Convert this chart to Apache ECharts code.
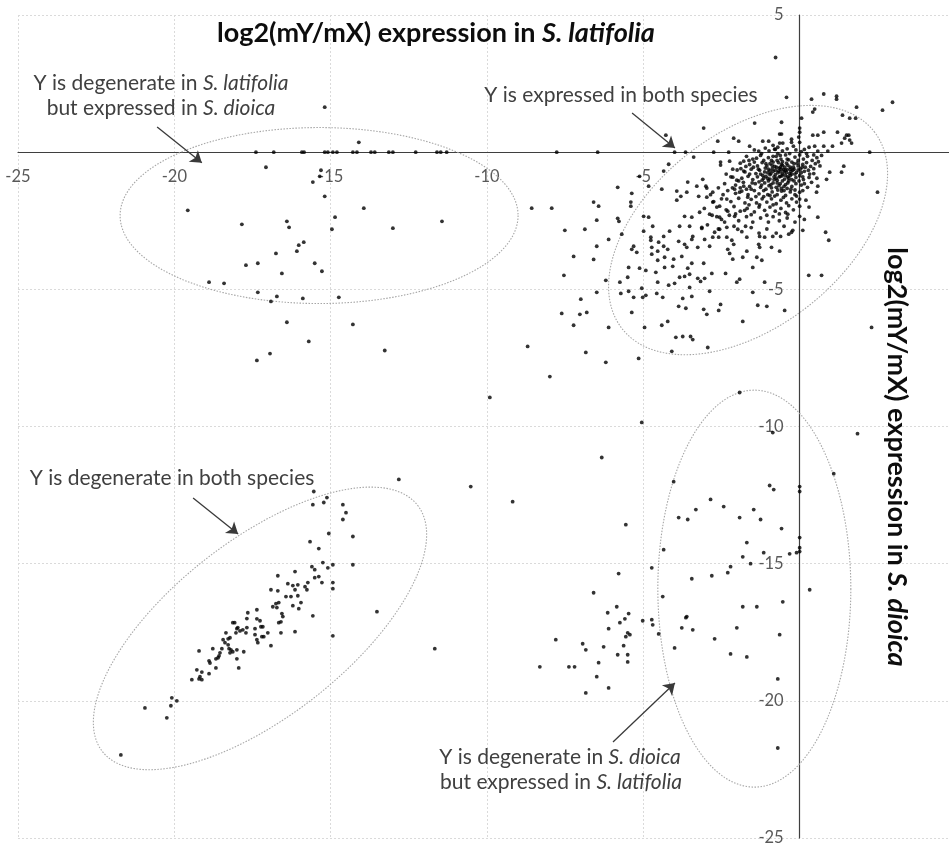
<!DOCTYPE html>
<html><head><meta charset="utf-8">
<script src="https://cdn.jsdelivr.net/npm/echarts@6/dist/echarts.min.js"></script>
<style>html,body{margin:0;padding:0;background:#fff}#chart{width:949px;height:848px}</style>
</head><body><div id="chart"></div>
<script>
// ---- axis settings ----
const axisMin = -25, axisMax = 5, tickStep = 5;
const hiddenXTicks = [0, 5];
const hiddenYTicks = [0];

// ---- data: [log2 ratio S. latifolia, log2 ratio S. dioica] ----
const degenerateInLatifolia = [
  [-17.39,0],[-16.82,0],[-15.92,0],[-15.85,0],[-15.19,0],[-15.09,0],[-14.93,0],[-14.8,0],[-14.29,0],[-14.16,0],
  [-13.71,0],[-13.59,0],[-13.14,0],[-13.01,0],[-12.28,0],[-11.6,0],[-11.48,0],[-11.29,0],
  [-15.19,1.64],[-14.1,0.36],[-17.07,-0.55],[-15.31,-0.66],[-15.35,-0.88],[-15.57,-1.09],[-15.19,-1.61],
  [-19.57,-2.12],[-17.84,-2.63],[-16.4,-2.52],[-16.33,-2.74],[-14.86,-2.37],[-13.94,-2.04],[-14.96,-2.81],
  [-13.01,-2.77],[-11.44,-2.52],[-15.86,-3.28],[-16.02,-3.39],[-16.08,-3.61],[-16.75,-3.69],[-17.71,-4.12],
  [-17.33,-4.05],[-15.51,-4.05],[-15.28,-4.34],[-16.56,-4.42],[-18.89,-4.74],[-18.41,-4.78],[-17.33,-5.11],
  [-16.72,-5.26],[-16.91,-5.44],[-15.89,-5.33],[-14.74,-5.29],[-16.4,-6.2],[-14.29,-6.28],[-15.7,-6.9],
  [-16.94,-7.34],[-17.36,-7.59],[-13.27,-7.23]
];

const expressedInBoth = [
  [-4.0,0],[-3.65,0],[-2.75,0],[-2.27,0],[2.24,0],
  [-4.28,0.62],[-3.07,0.88],[-2.62,0.4],[-2.11,0.51],[-1.95,0.4],[-3.39,-0.18],[-4.19,-0.44],[-4.35,-0.69],
  [-5.12,-0.88],[-5.82,-1.28],[-5.37,-1.5],[-5.4,-1.82],[-5.4,-1.97],[-5.82,-2.41],[-5.78,-2.52],[-4.99,-2.34],
  [-4.83,-2.37],[-4.83,-1.24],[-4.41,-1.35],[-3.93,-1.42],[-3.58,-1.09],[-3.8,-1.61],[-3.61,-1.46],[-3.93,-1.75],
  [-3.29,-1.24],[-3.1,-0.99],[-3.0,-1.24],[-2.97,-1.31],[-3.23,-1.61],[-2.97,-1.64],[-2.78,-1.46],[-2.53,-0.36],
  [-2.53,-0.47],[-2.24,-0.33],[-2.14,-0.62],[-2.14,-0.91],[-2.01,-1.02],[-1.79,-0.33],[-1.79,-0.69],[-1.79,-1.24],
  [-1.92,-1.46],[-1.66,-1.64],[-2.33,-1.71],[-2.08,-1.35],[-2.56,-1.97],[-2.3,-2.15],[-2.08,-2.34],[-2.56,-2.37],
  [-2.88,-2.26],[-3.2,-2.19],[-3.45,-2.37],[-3.68,-2.34],[-2.78,-1.82],[-1.76,-2.12],
  [-0.77,3.45],[-0.42,2.0],[0.38,1.93],[0.77,2.12],[1.18,2.04],[1.18,1.93],[1.82,1.64],[2.97,1.82],[2.65,1.53],
  [0.48,1.57],[0.42,1.46],[1.37,1.35],[1.6,1.24],[1.79,1.24],[-1.44,1.06],[-0.58,1.09],[0.06,1.24],[0,0.88],
  [0,0.73],[0.42,0.62],[0.58,0.62],[0.77,0.73],[1.21,0.73],[1.5,0.62],[1.57,0.62],[1.44,0.51],[1.6,0.44],
  [1.66,0.33],[1.34,0.33],[1.05,0.22],[0.77,0.22],[0.9,0.04],[0.58,0.04],[0.48,0.22],[-0.26,0.47],[-0.26,0.36],
  [-0.64,0.66],[-0.58,0.66],[-0.64,0.33],[-0.54,0.33],[-1.18,0.4],[-0.99,0.4],[-1.6,0.22],[-1.31,0.04],
  [-0.03,0.55],[0,0.36],[-0.8,0.11],[-0.7,0.18],
  [0.96,-0.73],[1.34,-0.73],[1.41,-0.51],[0.86,-0.99],[2.01,-0.8],[0.58,-1.24],[0.54,-1.46],[2.49,-1.46],
  [0.58,-2.37],[-0.38,-2.26],[0,-1.46],[0,-1.71],[0,-1.97],[0,-2.34],[0.83,-2.92],[0.93,-3.21],[0.29,-4.49],
  [0.7,-4.49],[2.3,-6.39],
  [-0.48,-5.77],[-1.05,-5.62],[-1.34,-5.58],[-1.5,-5.11],[-1.12,-4.74],[-1.5,-4.2],[-1.21,-3.94],[-1.37,-3.83],
  [-0.64,-3.61],[-0.9,-3.47],[-1.28,-3.47],[-1.31,-3.36],[-1.28,-3.07],[-1.12,-3.1],[-0.86,-3.07],[-0.61,-3.07],
  [-0.35,-2.99],[-0.26,-2.92],[-0.22,-2.85],
  [-5.69,-2.99],[-5.37,-3.54],[-5.31,-3.43],[-5.21,-3.65],[-5.47,-4.2],[-5.12,-4.23],[-4.92,-4.31],[-5.5,-4.56],
  [-5.75,-4.74],[-5.05,-4.96],[-5.72,-5.15],[-5.47,-5.07],[-5.31,-5.29],[-5.02,-5.29],[-4.92,-5.22],[-5.37,-5.84],
  [-4.96,-6.39],[-4.41,-6.31],[-4.22,-6.17],[-4.57,-5.15],[-4.38,-5.29],[-4.54,-4.74],[-4.19,-4.85],[-4.0,-4.78],
  [-4.6,-4.38],[-4.32,-4.2],[-4.54,-3.94],[-4.32,-3.83],[-4.06,-4.16],[-4.03,-3.9],[-3.84,-4.56],[-3.68,-4.53],
  [-3.52,-4.45],[-3.58,-4.23],[-3.77,-3.8],[-3.45,-4.05],[-3.52,-4.93],[-3.74,-5.33],[-3.45,-5.26],[-3.87,-5.62],
  [-3.64,-5.69],[-3.26,-4.6],[-3.17,-4.71],[-3.04,-4.6],[-2.88,-5.07],[-2.81,-4.42],[-3.07,-4.05],[-3.07,-5.73],
  [-2.97,-5.91],[-2.53,-5.55],[-2.59,-5.77],[-2.37,-4.42],[-2.01,-4.74],[-1.92,-4.63],[-1.82,-6.17],[-2.94,-7.12],
  [-3.96,-6.75],[-3.74,-6.72],[-3.49,-6.72],[-3.42,-6.83],[-4.09,-7.26],[-5.15,-7.52],
  [-4.99,-2.88],[-4.76,-3.1],[-4.76,-3.21],[-4.73,-3.47],[-4.73,-3.72],[-4.54,-3.61],[-4.51,-3.28],[-4.35,-3.07],
  [-4.35,-3.43],[-4.22,-3.54],[-4.16,-2.88],[-3.87,-3.25],[-3.68,-3.36],[-3.61,-3.47],[-3.45,-3.18],[-3.42,-3.07],
  [-3.26,-3.47],[-3.13,-2.74],[-3.04,-3.18],[-2.88,-3.43],[-2.78,-3.1],[-2.72,-2.92],[-2.56,-2.81],[-2.59,-3.1],
  [-2.33,-2.74],[-2.33,-3.1],[-2.3,-3.54],[-2.24,-3.69],[-2.17,-3.21],[-2.11,-3.36],[-2.14,-3.9],[-1.82,-3.83],
  [-1.69,-3.1],[-1.69,-3.61],[-1.98,-2.81],[-1.73,-2.7],[-4.7,-2.7],[-3.84,-2.7],[-3.52,-2.7],[-3.13,-2.78],
  // dense core
  [-1.1,0.15],[-0.85,0.25],[-0.4,0.12],[-0.2,0.22],[0.15,0.1],[0.3,0.18],[-0.55,0.05],[-1.45,0.08],[0.05,0.02],
  [-1.7,-0.15],[-1.5,-0.25],[-1.25,-0.12],[-1.0,-0.2],[-0.9,-0.3],[-0.75,-0.15],[-0.6,-0.25],[-0.45,-0.1],
  [-0.35,-0.28],[-0.15,-0.18],[0.0,-0.1],[0.12,-0.25],[0.25,-0.15],[0.4,-0.3],[0.55,-0.2],[-0.05,-0.3],
  [-0.7,-0.05],[-1.15,-0.3],[0.7,-0.12],
  [-1.9,-0.4],[-1.6,-0.45],[-1.35,-0.5],[-1.2,-0.38],[-1.05,-0.5],[-0.95,-0.42],[-0.8,-0.52],[-0.68,-0.38],
  [-0.55,-0.48],[-0.42,-0.4],[-0.3,-0.55],[-0.18,-0.42],[-0.05,-0.5],[0.1,-0.45],[0.22,-0.38],[0.35,-0.52],
  [0.5,-0.42],[0.65,-0.5],[-0.62,-0.55],[-0.25,-0.36],[-1.45,-0.36],[-0.85,-0.36],
  [-2.0,-0.65],[-1.75,-0.72],[-1.55,-0.62],[-1.4,-0.78],[-1.28,-0.66],[-1.12,-0.72],[-1.0,-0.62],[-0.92,-0.78],
  [-0.78,-0.66],[-0.7,-0.75],[-0.6,-0.62],[-0.5,-0.72],[-0.4,-0.64],[-0.32,-0.78],[-0.22,-0.66],[-0.1,-0.74],
  [0.02,-0.62],[0.15,-0.7],[0.28,-0.66],[0.45,-0.78],[-0.85,-0.7],[-0.55,-0.8],[-0.15,-0.8],[-1.6,-0.8],
  [-2.2,-0.9],[-1.85,-0.95],[-1.65,-0.88],[-1.5,-1.0],[-1.35,-0.9],[-1.2,-1.02],[-1.08,-0.88],[-0.95,-0.98],
  [-0.82,-0.9],[-0.72,-1.02],[-0.62,-0.88],[-0.48,-0.98],[-0.38,-0.9],[-0.25,-1.0],[-0.12,-0.92],[0.0,-0.86],
  [0.12,-1.0],[0.3,-0.92],[-0.55,-1.05],[-1.0,-1.05],[-0.3,-0.85],[0.55,-0.95],
  [-2.4,-1.15],[-2.05,-1.2],[-1.8,-1.1],[-1.6,-1.25],[-1.42,-1.15],[-1.25,-1.28],[-1.12,-1.12],[-0.98,-1.22],
  [-0.85,-1.12],[-0.75,-1.28],[-0.62,-1.15],[-0.5,-1.25],[-0.38,-1.12],[-0.25,-1.25],[-0.12,-1.15],[0.05,-1.2],
  [0.25,-1.28],[-1.9,-1.3],[-0.9,-1.3],
  [-2.3,-1.4],[-2.05,-1.5],[-1.85,-1.42],[-1.65,-1.55],[-1.45,-1.4],[-1.3,-1.52],[-1.15,-1.4],[-1.02,-1.55],
  [-0.88,-1.45],[-0.72,-1.55],[-0.58,-1.42],[-0.45,-1.58],[-0.3,-1.45],[-0.15,-1.55],[0.1,-1.4],[-1.55,-1.35],[-0.8,-1.6],
  [-2.5,-1.7],[-2.2,-1.8],[-1.95,-1.68],[-1.75,-1.85],[-1.55,-1.72],[-1.38,-1.85],[-1.2,-1.7],[-1.05,-1.82],
  [-0.9,-1.7],[-0.75,-1.88],[-0.6,-1.75],[-0.42,-1.85],[-0.25,-1.7],[-0.1,-1.82],[0.2,-1.75],
  [-2.65,-2.0],[-2.35,-2.1],[-2.1,-1.98],[-1.9,-2.15],[-1.68,-2.05],[-1.45,-2.18],[-1.3,-2.0],[-1.12,-2.12],
  [-0.95,-2.0],[-0.78,-2.15],[-0.6,-2.05],[-0.45,-2.2],[-0.2,-2.1],[0.3,-2.0],
  [-2.8,-2.3],[-2.5,-2.45],[-2.25,-2.3],[-1.95,-2.5],[-1.7,-2.35],[-1.5,-2.55],[-1.25,-2.4],[-1.0,-2.55],
  [-0.85,-2.35],[-0.65,-2.5],[-0.4,-2.4],[-0.15,-2.55],[0.15,-2.45],
  [-2.95,-2.65],[-2.6,-2.8],[-2.1,-2.7],[-1.85,-2.9],[-1.55,-2.75],[-1.3,-2.95],[-1.05,-2.8],[-0.75,-2.95],
  [-0.5,-2.7],[0.1,-2.85],
  [-0.65,-0.58],[-0.45,-0.85],[-0.75,-0.95],[-0.35,-1.05],[-0.95,-0.82],[-0.55,-0.35],[-0.2,-0.55],[-1.1,-0.58],
  [-0.4,-1.32],[-0.7,-1.38],[-1.3,-1.08],[-0.28,-0.7],[-0.85,-0.15],[0.08,-0.55],[-0.15,-1.38],
  [-0.58,-0.45],[-0.48,-0.55],[-0.38,-0.48],[-0.68,-0.68],[-0.52,-0.64],[-0.42,-0.74],[-0.88,-0.6],[-0.78,-0.82],
  [-0.65,-0.9],[-0.35,-0.95],[-0.18,-0.62],[-0.08,-0.4],[0.05,-0.75],[0.18,-0.55],[0.32,-0.8],[-1.02,-0.75],
  [-1.18,-0.85],[-1.32,-0.62],[-1.48,-0.55],[-1.62,-0.3],[-1.38,-0.22],[-1.22,-0.05],[-0.98,0.05],[-0.78,0.1],
  [-0.62,-0.12],[-0.32,-0.05],[-0.12,0.08],[0.22,-0.05],[0.45,-0.1],[0.6,-0.35],
  [-0.72,-1.12],[-0.58,-1.32],[-0.45,-1.18],[-0.28,-1.35],[-0.92,-1.18],[-1.08,-1.35],[-1.22,-1.2],[-1.52,-1.12],
  [-1.7,-1.35],[-1.95,-1.05],[-2.15,-1.3],[-2.35,-0.8],[-1.88,-0.6],[-1.72,-0.52],[-0.02,-1.05],[0.15,-1.15],
  [0.38,-1.1],[0.45,-0.6],[-0.1,-1.6],[-0.52,-1.65],[-0.95,-1.58],[-1.15,-1.62],[-1.4,-1.62],[-1.62,-1.92],
  [-1.28,-1.92],[-0.85,-1.92],[-0.35,-1.95],[-0.65,-2.25],[-1.05,-2.3],[-1.55,-2.28],[-2.05,-2.25],[-2.45,-1.55],
  [-2.6,-1.3],[-2.75,-1.8],[-3.05,-2.05],[-2.85,-1.55],[-2.4,-2.55],[-2.65,-2.35],
  [-0.62,-0.72],[-0.74,-0.55],[-0.46,-0.66],[-0.56,-0.86],[-0.82,-1.0],[-0.3,-0.62],[-0.88,-0.48],[-1.08,-0.42],
  [-0.72,-0.3],[-0.4,-0.25],[-0.25,-0.8],[-0.5,-1.4],[-1.02,-0.96],[-0.66,-1.22],[-0.18,-1.05],[-1.25,-0.8],
  [-0.05,-0.65],[0.1,-0.9],[-0.95,-0.68],[-1.15,-0.95]
];

const degenerateInBoth = [
  [-15.54,-12.37],[-15.57,-12.85],[-15.22,-12.77],[-15.12,-12.59],[-14.61,-12.85],[-14.51,-13.14],[-14.61,-13.39],
  [-15.06,-13.9],[-14.29,-14.01],[-15.66,-14.2],[-15.38,-14.45],[-15.25,-14.96],[-15.09,-15.15],[-14.93,-15.04],
  [-14.29,-15.04],[-15.6,-15.11],[-15.51,-15.22],[-16.14,-15.29],[-16.69,-15.44],[-15.38,-15.47],[-15.51,-15.51],
  [-15.28,-15.69],[-14.93,-15.69],[-14.93,-15.91],[-16.37,-15.73],[-16.21,-15.8],[-16.05,-15.77],[-15.82,-15.84],
  [-15.73,-15.69],[-15.76,-15.95],[-16.91,-15.95],[-16.69,-15.99],[-16.14,-15.95],[-16.43,-16.2],[-16.27,-16.2],
  [-16.05,-16.17],[-15.95,-16.42],[-16.21,-16.53],[-16.02,-16.64],[-16.66,-16.42],[-16.85,-16.57],[-16.75,-16.46],
  [-16.72,-16.6],[-16.53,-16.93],[-16.59,-17.12],[-16.66,-17.15],[-16.56,-16.82],[-15.57,-16.9],[-16.14,-17.48],
  [-16.59,-17.52],[-14.93,-17.63],[-13.52,-16.75],[-11.67,-18.1],[-16.91,-17.99],[-17.36,-16.68],[-17.65,-16.79],
  [-17.36,-17.01],[-17.26,-17.08],[-17.23,-17.3],[-17.42,-17.37],[-17.17,-17.3],[-17.01,-17.52],[-17.14,-17.66],
  [-17.2,-17.66],[-17.36,-17.77],[-17.33,-17.88],[-17.68,-17.0],[-17.68,-17.33],[-17.81,-17.41],[-17.9,-17.45],
  [-18.03,-17.52],[-18.07,-17.15],[-18.13,-17.15],[-18.0,-17.37],[-17.97,-17.33],[-17.71,-17.52],[-17.42,-17.59],
  [-18.35,-17.52],[-18.22,-17.7],[-18.28,-17.74],[-18.28,-17.96],[-18.44,-17.77],[-18.19,-18.14],[-18.13,-18.21],
  [-18.0,-18.14],[-18.22,-18.25],[-18.48,-18.1],[-18.77,-18.1],[-18.54,-18.25],[-17.78,-18.21],[-18.0,-18.47],
  [-17.94,-18.8],[-18.57,-18.36],[-18.67,-18.47],[-18.6,-18.43],[-18.86,-18.62],[-18.89,-18.54],[-18.67,-18.8],
  [-19.21,-18.18],[-19.28,-18.87],[-19.12,-18.95],[-19.18,-19.12],[-19.12,-19.23],[-19.21,-19.2],[-19.44,-19.23],
  [-18.89,-19.01],[-18.38,-17.88],[-18.25,-18.1],[-20.08,-19.89],[-19.92,-20.0],[-20.11,-20.18],[-20.24,-20.62],
  [-20.94,-20.26],[-21.71,-21.97]
];

const degenerateInDioica = [
  [-5.56,-13.58],[-4.35,-14.49],[-4.73,-15.15],[-5.79,-15.36],[-4.38,-16.2],[-6.59,-16.06],[-5.85,-16.57],
  [-6.14,-16.79],[-5.47,-16.82],[-5.59,-17.01],[-5.75,-17.15],[-5.02,-17.08],[-4.73,-17.04],[-4.7,-17.23],
  [-6.11,-17.37],[-5.5,-17.52],[-5.43,-17.59],[-5.56,-17.66],[-4.51,-17.56],[-7.8,-17.77],[-6.94,-17.92],
  [-6.84,-18.14],[-6.27,-18.03],[-5.63,-17.99],[-5.82,-18.32],[-5.5,-18.32],[-5.5,-18.58],[-6.43,-18.61],
  [-8.31,-18.76],[-7.38,-18.76],[-7.2,-18.76],[-6.49,-19.12],[-6.11,-19.53],[-6.84,-19.71],
  [-4.03,-12.01],[-0.96,-12.15],[-0.83,-12.3],[0,-12.19],[0,-12.37],[-2.85,-12.66],[-2.43,-12.92],[-3.32,-13.03],
  [-1.47,-13.03],[-3.87,-13.32],[-3.58,-13.39],[-1.92,-13.32],[-1.25,-13.39],[-0.58,-13.72],[0,-14.05],
  [-1.69,-14.23],[-1.15,-14.6],[-0.32,-14.64],[-0.1,-14.6],[0,-14.42],[0,-14.56],[-1.82,-14.75],[-1.57,-15.0],
  [-2.21,-15.11],[-2.3,-15.33],[-2.81,-15.44],[-3.45,-15.55],[0.32,-15.95],[-0.54,-16.39],[-1.82,-16.57],
  [-1.37,-16.57],[-3.61,-16.93],[-3.64,-16.97],[-3.77,-17.34],[-3.42,-17.41],[-2.01,-17.34],[-0.64,-17.59],
  [-2.72,-17.74],[-4.0,-18.07],[-2.21,-18.29],[-1.69,-18.4],[-0.7,-19.2],[-0.7,-21.72]
];

const otherGenes = [
  [-7.77,0],[-6.46,0],
  [-8.57,-2.04],[-7.93,-2.04],[-6.59,-1.82],[-6.43,-1.97],[-6.49,-2.48],[-7.51,-2.85],[-6.87,-2.81],[-6.11,-3.18],
  [-6.49,-3.43],[-7.23,-3.8],[-6.59,-3.91],[-7.54,-4.49],[-6.2,-4.67],[-6.49,-5.11],[-7.0,-5.36],[-7.61,-5.88],
  [-7.03,-5.91],[-6.81,-5.84],[-7.23,-6.31],[-6.11,-6.39],[-8.7,-7.08],[-6.84,-7.3],[-6.2,-7.66],[-7.99,-8.18],
  [-9.91,-8.94],[-5.05,-9.85],[-1.92,-8.76],[-0.86,-10.22],[1.85,-10.26],[1.09,-11.72],[-6.33,-11.13],
  [-10.52,-12.19],[-12.82,-11.93],[-9.18,-12.74]
];

// ---- annotations ----
// ellipse: centre (data units), semi-axes (px), rotation (deg)
const ellipses = [
  [-15.37,-2.31,199,88,0],
  [-1.65,-2.84,160,97,38],
  [-17.26,-17.36,200,88,38],
  [-1.45,-15.91,96.5,198.5,0]
];
const arrows = [
  [[-20.55,0.92],[-19.12,-0.39]],
  [[-5.36,1.43],[-3.99,0.15]],
  [[-19.40,-12.61],[-17.96,-13.92]],
  [[-5.97,-21.5],[-3.99,-19.35]]
];

const FONT = 'Lato, "Open Sans", sans-serif';
const GRID = {left:18, top:15, width:938, height:823};
const span = axisMax - axisMin;
// move each axis (line + labels) onto the other axis' zero
const xAxisOffset = -GRID.height * (0 - axisMin) / span;
const yAxisOffset = -GRID.width * (0 - axisMin) / span;

const chart = echarts.init(document.getElementById('chart'), null, {renderer:'canvas'});

const dotSeries = (name, data) => ({
  name, type:'scatter', data, symbol:'circle', symbolSize:3.8,
  itemStyle:{color:'#000'}, silent:true, z:3
});

function ellipseItem(params, api) {
  const c = api.coord([api.value(0), api.value(1)]);
  const a = api.value(2), b = api.value(3), th = api.value(4) * Math.PI / 180;
  const cs = Math.cos(th), sn = Math.sin(th);
  const pts = [];
  for (let i = 0; i < 200; i++) {
    const t = i / 200 * Math.PI * 2;
    const ex = a * Math.cos(t), ey = b * Math.sin(t);
    pts.push([c[0] + ex * cs + ey * sn, c[1] - ex * sn + ey * cs]);
  }
  return {type:'polygon', shape:{points:pts},
    style:{fill:'none', stroke:'#a6a6a6', lineWidth:1.1, lineDash:[1.5,1.5]}};
}

const NS = 21;
const normal = {fontFamily:FONT, fontSize:NS, fill:'#404040'};
const ital = {fontFamily:FONT, fontSize:NS, fill:'#404040', fontStyle:'italic'};
function note(x, y, text) {
  return {type:'text', x, y, silent:true, z:10,
    style:{text, rich:{n:normal, i:ital}, align:'center', verticalAlign:'middle', font:NS + 'px ' + FONT, fill:'#404040'}};
}
const TS = 27;
const tb = {fontFamily:FONT, fontSize:TS, fontWeight:'bold', fill:'#0d0d0d'};
const tbi = {fontFamily:FONT, fontSize:TS, fontWeight:'bold', fontStyle:'italic', fill:'#0d0d0d'};

const axisCommon = {
  type:'value', min:axisMin, max:axisMax, interval:tickStep,
  axisLine:{onZero:false, lineStyle:{color:'#3f3f3f', width:1.2}},
  axisTick:{show:false},
  splitLine:{show:true, lineStyle:{color:'#dadada', type:[2,2], width:1}}
};

chart.setOption({
  animation:false,
  backgroundColor:'#fff',
  grid:Object.assign({containLabel:false, outerBoundsMode:'none'}, GRID),
  xAxis:Object.assign({}, axisCommon, {position:'bottom', offset:xAxisOffset,
    axisLabel:{formatter:v => hiddenXTicks.includes(v) ? '' : String(v), color:'#595959', fontSize:16.5, fontFamily:FONT, margin:16}}),
  yAxis:Object.assign({}, axisCommon, {position:'left', offset:yAxisOffset,
    axisLabel:{formatter:v => hiddenYTicks.includes(v) ? '' : String(v), color:'#595959', fontSize:16.5, fontFamily:FONT, margin:16}}),
  series:[
    {type:'custom', name:'ellipses', renderItem:ellipseItem, data:ellipses, silent:true, clip:false, z:2},
    dotSeries('degenerateInLatifolia', degenerateInLatifolia),
    dotSeries('expressedInBoth', expressedInBoth),
    dotSeries('degenerateInBoth', degenerateInBoth),
    dotSeries('degenerateInDioica', degenerateInDioica),
    dotSeries('other', otherGenes),
    {type:'line', name:'arrows', data:[], silent:true,
      markLine:{silent:true, symbol:['none','arrow'], symbolSize:11, animation:false,
        label:{show:false}, lineStyle:{color:'#3a3a3a', width:1.3, type:'solid'},
        emphasis:{disabled:true},
        data:arrows.map(([s,e]) => [{coord:s},{coord:e}])}}
  ],
  graphic:[
    {type:'text', x:436, y:33, silent:true, z:10,
      style:{text:'{a|log2(mY/mX) expression in }{b|S. latifolia}', rich:{a:tb, b:tbi}, align:'center', verticalAlign:'middle', font:'bold ' + TS + 'px ' + FONT}},
    {type:'text', x:897, y:457, rotation:-Math.PI/2, silent:true, z:10,
      style:{text:'{a|log2(mY/mX) expression in }{b|S. dioica}', rich:{a:tb, b:tbi}, align:'center', verticalAlign:'middle', font:'bold ' + TS + 'px ' + FONT}},
    note(161, 83, '{n|Y is degenerate in }{i|S. latifolia}'),
    note(161, 108, '{n|but expressed in }{i|S. dioica}'),
    note(621, 95, '{n|Y is expressed in both species}'),
    note(172, 478, '{n|Y is degenerate in both species}'),
    note(560, 757, '{n|Y is degenerate in }{i|S. dioica}'),
    note(561, 782, '{n|but expressed in }{i|S. latifolia}')
  ]
});
</script>
</body></html>
